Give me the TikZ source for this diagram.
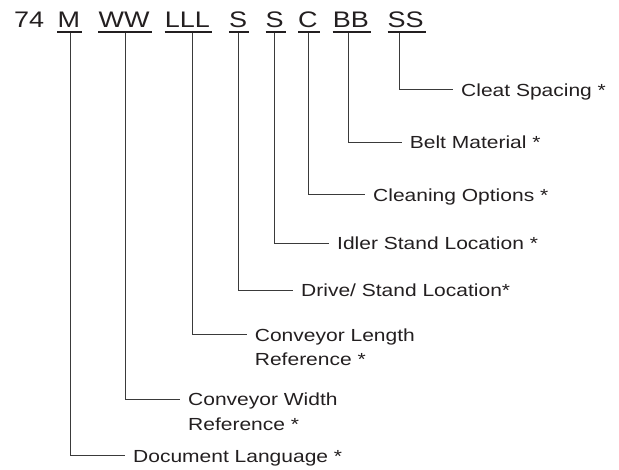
\documentclass[tikz,border=0pt]{standalone}
\usepackage{fontspec}
\setmainfont{Liberation Sans}[FakeStretch=1.2]
\definecolor{txt}{HTML}{231F20}
\definecolor{ln}{HTML}{3A3A3A}
\begin{document}
\begin{tikzpicture}[x=1pt,y=-1pt,
  tok/.style={anchor=base west, inner sep=0pt, font=\fontsize{22.5}{27}\selectfont, text=txt},
  lab/.style={anchor=base west, inner xsep=8pt, inner ysep=0pt, font=\fontsize{17.5}{24.5}\selectfont, text=txt},
  uline/.style={line width=2.3pt, draw=txt},
  conn/.style={line width=1pt, draw=ln}]
\useasboundingbox (0,0) rectangle (619,470);
% code tokens
\node[tok] (t74) at (14,27.3) {74};
\node[tok] (tM) at (57.3,27.3) {M};
\node[tok] (tWW) at (98.4,27.3) {WW};
\node[tok] (tLLL) at (164.7,27.3) {LLL};
\node[tok] (tS1) at (228.8,27.3) {S};
\node[tok] (tS2) at (265.5,27.3) {S};
\node[tok] (tC) at (298,27.3) {C};
\node[tok] (tBB) at (332.7,27.3) {BB};
\node[tok] (tSS) at (387.5,27.3) {SS};
\foreach \t in {tM,tWW,tLLL,tS1,tS2,tC,tBB,tSS}
  \draw[uline] ([yshift=-4.7pt]\t.base west) -- ([xshift=2pt,yshift=-4.7pt]\t.base east);
% connector start points on the underlines
\coordinate (sM) at (70.3,33);
\coordinate (sWW) at (125.3,33);
\coordinate (sLLL) at (192.7,33);
\coordinate (sS1) at (238,33);
\coordinate (sS2) at (274,33);
\coordinate (sC) at (308.7,33);
\coordinate (sBB) at (348,33);
\coordinate (sSS) at (399.3,33);
% labels
\node[lab] (lSS) at (453,96.3) {Cleat Spacing *};
\node[lab] (lBB) at (401.7,149) {Belt Material *};
\node[lab] (lC) at (365,201.3) {Cleaning Options *};
\node[lab] (lS2) at (329,249.6) {Idler Stand Location *};
\node[lab] (lS1) at (293,297) {Drive/ Stand Location*};
\node[lab] (lLLL) at (246.7,341.3) {\begin{tabular}[t]{@{}l@{}}Conveyor Length\\Reference *\end{tabular}};
\node[lab] (lWW) at (180,405.6) {\begin{tabular}[t]{@{}l@{}}Conveyor Width\\Reference *\end{tabular}};
\node[lab] (lM) at (125,462.3) {Document Language *};
% connectors
\foreach \k in {M,WW,LLL,S1,S2,C,BB,SS}
  \draw[conn] (s\k) |- ([yshift=6.3pt]l\k.base west);
\end{tikzpicture}
\end{document}
